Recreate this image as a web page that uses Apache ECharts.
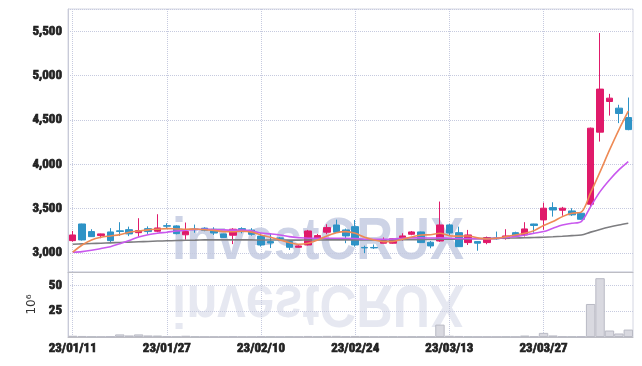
<!DOCTYPE html>
<html>
<head>
<meta charset="utf-8">
<script src="https://cdn.jsdelivr.net/npm/echarts@6/dist/echarts.min.js"></script>
<style>html,body{margin:0;padding:0;background:#fff}#c{width:642px;height:366px}</style>
</head>
<body>
<div id="c"></div>
<script>
const dates = ['23/01/11','23/01/12','23/01/13','23/01/16','23/01/17','23/01/18','23/01/19','23/01/20','23/01/25','23/01/26',
'23/01/27','23/01/30','23/01/31','23/02/01','23/02/02','23/02/03','23/02/06','23/02/07','23/02/08','23/02/09',
'23/02/10','23/02/13','23/02/14','23/02/15','23/02/16','23/02/17','23/02/20','23/02/21','23/02/22','23/02/23',
'23/02/24','23/02/27','23/02/28','23/03/02','23/03/03','23/03/06','23/03/07','23/03/08','23/03/09','23/03/10',
'23/03/13','23/03/14','23/03/15','23/03/16','23/03/17','23/03/20','23/03/21','23/03/22','23/03/23','23/03/24',
'23/03/27','23/03/28','23/03/29','23/03/30','23/03/31','23/04/03','23/04/04','23/04/05','23/04/06','23/04/07'];

const opens  = [3139,3327,3241,3196,3237,3250,3263,3229,3274,3245,3308,3305,3205,3270,3279,3268,3215,3200,3274,3258,
3190,3128,3170,3128,3064,3090,3166,3234,3316,3260,3297,3062,3062,3110,3110,3162,3211,3237,3121,3135,
3316,3229,3117,3128,3117,3168,3162,3229,3203,3327,3373,3512,3482,3474,3448,3550,4363,4709,4634,4528];
const closes = [3203,3147,3184,3215,3139,3242,3215,3252,3241,3282,3302,3218,3241,3262,3256,3225,3175,3268,3241,3210,
3090,3112,3163,3064,3079,3248,3196,3286,3234,3192,3090,3057,3057,3139,3160,3192,3237,3117,3079,3316,
3225,3071,3203,3110,3173,3160,3192,3196,3271,3310,3505,3485,3505,3430,3380,4408,4849,4747,4574,4392];
const lows   = [3128,3140,3180,3166,3110,3192,3190,3184,3215,3234,3279,3210,3150,3228,3245,3203,3170,3100,3222,3195,
3072,3055,3150,3034,3060,3085,3155,3211,3230,3110,3071,2998,3045,3108,3105,3139,3200,3113,3053,3125,
3200,3071,3090,3025,3098,3150,3150,3185,3185,3229,3262,3410,3420,3418,3375,3525,4257,4550,4465,4385];
const highs  = [3248,3330,3268,3218,3280,3347,3297,3392,3300,3437,3335,3312,3343,3320,3290,3290,3218,3279,3290,3280,
3222,3222,3180,3140,3085,3260,3215,3324,3376,3275,3372,3082,3095,3175,3165,3222,3248,3240,3135,3580,
3327,3297,3260,3133,3185,3241,3268,3240,3347,3330,3568,3572,3520,3505,3460,4415,5482,4795,4672,4754];

const maOrange = [3008,3090,3147,3177,3192,3207,3234,3248,3260,3268,3275,3271,3268,3270,3262,3255,3241,3240,3245,3235,
3203,3177,3147,3117,3098,3110,3147,3192,3229,3241,3222,3177,3147,3128,3130,3155,3180,3203,3205,3222,
3195,3190,3192,3170,3158,3165,3184,3203,3222,3252,3310,3354,3410,3448,3460,3680,3915,4160,4390,4600];
const maPurple = [3008,3015,3030,3050,3071,3105,3140,3180,3205,3222,3234,3248,3258,3265,3267,3265,3260,3258,3258,3250,
3225,3215,3203,3184,3173,3166,3166,3166,3166,3166,3163,3155,3155,3155,3158,3166,3170,3170,3168,3170,
3166,3163,3163,3160,3160,3165,3175,3185,3203,3222,3241,3279,3316,3335,3354,3523,3692,3824,3937,4031];
const maGray = [3098,3102,3106,3110,3114,3118,3122,3126,3130,3134,3137,3140,3143,3145,3147,3148,3148,3148,3147,3147,
3146,3146,3146,3145,3145,3146,3146,3147,3147,3148,3148,3147,3147,3147,3148,3149,3150,3151,3152,3154,
3155,3157,3159,3161,3163,3165,3167,3169,3172,3174,3177,3182,3188,3195,3203,3235,3265,3292,3315,3335];

const volumes = [1.2,1.0,0.4,0.3,0.5,2.5,1.5,2.5,1.5,1.4,0.5,0.4,1.2,0.4,0.3,0.3,0.3,0.5,0.3,0.3,
0.5,0.4,0.2,0.4,0.3,1.0,0.4,1.1,1.1,0.5,1.0,0.4,0.3,0.3,0.4,0.3,0.4,0.4,0.3,12,
1.2,1.0,0.4,0.3,0.3,0.3,0.4,0.3,1.4,0.6,4.0,1.5,0.6,0.4,0.5,32,57,6.3,3.4,7.2];

const ohlc = dates.map((d, i) => [opens[i], closes[i], lows[i], highs[i]]);

const labelFont = "'Roboto Condensed','Noto Sans Condensed','DejaVu Sans Condensed',sans-serif";
const labelStyle = {color: '#222', fontFamily: labelFont, fontWeight: 'bold', fontSize: 13,
  textBorderColor: '#222', textBorderWidth: 0.7};
const up = '#e01a6a', down = '#2e93c6';
const gridLineColor = '#c6cadf';

const chart = echarts.init(document.getElementById('c'), null, {renderer: 'canvas'});
chart.setOption({
  animation: false,
  backgroundColor: '#ffffff',
  graphic: {
    elements: [
      {type: 'text', x: 318, y: 272, scaleX: 0.85, z: -10, silent: true,
       style: {text: 'investCRUX', font: "bold 60px 'Liberation Sans', sans-serif", fill: 'rgba(186,194,220,0.72)', align: 'center', verticalAlign: 'bottom'}},
      {type: 'text', x: 318, y: 273, scaleX: 0.85, scaleY: -1, z: -10, silent: true,
       style: {text: 'investCRUX', font: "bold 60px 'Liberation Sans', sans-serif", fill: 'rgba(210,214,230,0.55)', align: 'center', verticalAlign: 'bottom'}}
    ]
  },
  grid: [
    {left: 68, right: 9, top: 9, height: 263, show: true, borderColor: '#d4d6e2', borderWidth: 1, backgroundColor: 'transparent'},
    {left: 68, right: 9, top: 272, height: 65, show: true, borderColor: '#d4d6e2', borderWidth: 1, backgroundColor: 'transparent'}
  ],
  xAxis: [
    {type: 'category', gridIndex: 0, data: dates, boundaryGap: true,
     axisLabel: {show: false}, axisTick: {show: false},
     axisLine: {show: true, lineStyle: {color: '#bdbdc4', width: 1}},
     splitLine: {show: true, interval: 9, alignWithLabel: true, lineStyle: {type: 'dotted', color: gridLineColor}}},
    {type: 'category', gridIndex: 1, data: dates, boundaryGap: true,
     axisLabel: Object.assign({interval: 9, margin: 5}, labelStyle),
     axisTick: {show: false},
     axisLine: {show: true, lineStyle: {color: '#bdbdc4', width: 1}},
     splitLine: {show: true, interval: 9, alignWithLabel: true, lineStyle: {type: 'dotted', color: gridLineColor}}}
  ],
  yAxis: [
    {type: 'value', gridIndex: 0, min: 2785, max: 5753, scale: true,
     axisLine: {show: true, lineStyle: {color: '#c8cad8'}}, axisTick: {show: false},
     axisLabel: Object.assign({showMinLabel: false, showMaxLabel: false, margin: 6,
       formatter: v => v.toLocaleString('en-US')}, labelStyle),
     splitLine: {show: true, lineStyle: {type: 'dotted', color: gridLineColor}}},
    {type: 'value', gridIndex: 1, min: 0, max: 63, interval: 25,
     name: '10⁶', nameLocation: 'middle', nameGap: 29, nameRotate: 90,
     nameTextStyle: {color: '#333', fontFamily: "'DejaVu Sans',sans-serif", fontSize: 12},
     axisLine: {show: true, lineStyle: {color: '#c8cad8'}}, axisTick: {show: false},
     axisLabel: Object.assign({showMinLabel: false, showMaxLabel: false, margin: 6}, labelStyle),
     splitLine: {show: true, lineStyle: {type: 'dotted', color: gridLineColor}}}
  ],
  series: [
    {name: 'volume', type: 'bar', xAxisIndex: 1, yAxisIndex: 1, data: volumes, barCategoryGap: '0%',
     itemStyle: {color: '#d9d9e0', borderColor: '#b9bac4', borderWidth: 1}},
    {name: 'gray', type: 'line', xAxisIndex: 0, yAxisIndex: 0, data: maGray, symbol: 'none', smooth: 0.3,
     lineStyle: {color: '#7d7d80', width: 1.6}, z: 3},
    {name: 'purple', type: 'line', xAxisIndex: 0, yAxisIndex: 0, data: maPurple, symbol: 'none', smooth: 0.3,
     lineStyle: {color: '#c958ee', width: 1.6}, z: 3},
    {name: 'orange', type: 'line', xAxisIndex: 0, yAxisIndex: 0, data: maOrange, symbol: 'none', smooth: 0.3,
     lineStyle: {color: '#ee8a55', width: 1.6}, z: 4},
    {name: 'price', type: 'candlestick', xAxisIndex: 0, yAxisIndex: 0, data: ohlc, barWidth: 7,
     itemStyle: {color: up, color0: down, borderColor: up, borderColor0: down, borderWidth: 1}, z: 2}
  ]
});
</script>
</body>
</html>
